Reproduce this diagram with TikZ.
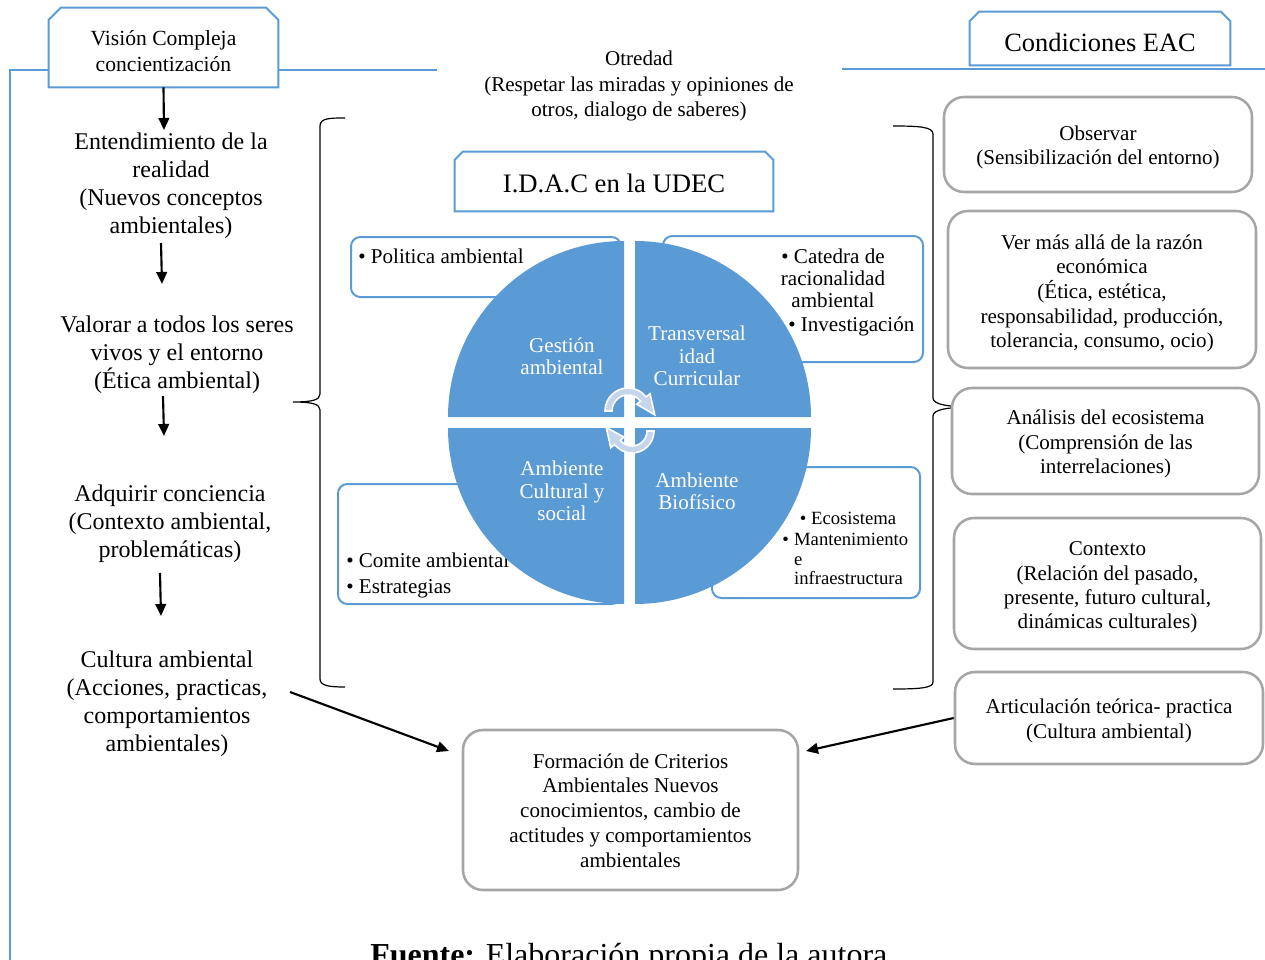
\documentclass[tikz,border=0pt]{standalone}
\usepackage{fontspec}
\setmainfont{Liberation Serif}
\usetikzlibrary{arrows.meta,calc}
\definecolor{myblue}{RGB}{91,155,213}
\definecolor{mygray}{RGB}{166,166,166}
\definecolor{arrlight}{RGB}{197,214,236}
\begin{document}
\begin{tikzpicture}[x=0.75pt,y=-0.75pt,
  hdrbase/.style={draw=none, inner sep=0pt},
  hdr/.style={draw=myblue, fill=white, line width=1.5pt},
  lefttxt/.style={align=center, inner sep=0pt, font=\fontsize{18}{21}\selectfont},
  graybox/.style={draw=mygray, line width=1.9pt, rounded corners=15pt, fill=white, inner sep=0pt},
  graytxt/.style={align=center, inner sep=0pt, font=\fontsize{15.8}{18.6}\selectfont},
  bluebox/.style={draw=myblue, line width=1.5pt, rounded corners=7pt, fill=white, inner sep=0pt},
  intxt/.style={inner sep=0pt, font=\fontsize{15.8}{18.75}\selectfont},
  quadtxt/.style={align=center, inner sep=0pt, text=white, font=\fontsize{15.8}{16.8}\selectfont},
  quad/.style={fill=myblue},
  brace/.style={draw=black, line width=0.9pt},
  arr/.style={-{Triangle[length=9pt,width=8pt]}, line width=1.6pt},
  arrfill/.style={fill=arrlight, draw=white, line width=1.2pt},
  topline/.style={draw=myblue, line width=2.2pt}
]
\useasboundingbox (0,0) rectangle (1265,960);
\clip (0,0) rectangle (1265,960);

% frame lines
\coordinate (tl) at (10,70);
\coordinate (tm) at (437,70);
\coordinate (bl) at (10,962);
\coordinate (tr1) at (842,69);
\coordinate (tr2) at (1267,69);
\draw[topline] (bl) -- (tl) -- (tm);
\draw[topline] (tr1) -- (tr2);

% header boxes (chamfered top corners)
\node[hdrbase, minimum width=171.75pt, minimum height=59.25pt] (vc) at (163.5,47.5) {};
\filldraw[hdr] (vc.south west) -- ([yshift=-9pt]vc.north west) -- ([xshift=9pt]vc.north west)
  -- ([xshift=-9pt]vc.north east) -- ([yshift=-9pt]vc.north east) -- (vc.south east) -- cycle;
\node[align=center, inner sep=0pt, font=\fontsize{16.2}{19.5}\selectfont] (vct) at (163.5,51.5) {Visión Compleja\\concientización};

\node[hdrbase, minimum width=195pt, minimum height=39.75pt] (eac) at (1100,38.5) {};
\filldraw[hdr] (eac.south west) -- ([yshift=-7pt]eac.north west) -- ([xshift=7pt]eac.north west)
  -- ([xshift=-7pt]eac.north east) -- ([yshift=-7pt]eac.north east) -- (eac.south east) -- cycle;
\node[inner sep=0pt, font=\fontsize{19.8}{22}\selectfont] (eact) at (1100,42.5) {Condiciones EAC};

\node[hdrbase, minimum width=238.5pt, minimum height=44.25pt] (idac) at (614,181.5) {};
\filldraw[hdr] (idac.south west) -- ([yshift=-6pt]idac.north west) -- ([xshift=6pt]idac.north west)
  -- ([xshift=-6pt]idac.north east) -- ([yshift=-6pt]idac.north east) -- (idac.south east) -- cycle;
\node[inner sep=0pt, font=\fontsize{20}{22}\selectfont] (idact) at (614,183) {I.D.A.C en la UDEC};

% Otredad
\node[align=center, inner sep=0pt, font=\fontsize{15.8}{19}\selectfont] (otr) at (639,86)
  {Otredad\\(Respetar las miradas y opiniones de\\otros, dialogo de saberes)};

% left column
\node[lefttxt] (ent) at (171,186) {Entendimiento de la\\realidad\\(Nuevos conceptos\\ambientales)};
\node[lefttxt] (val) at (177,355) {Valorar a todos los seres\\vivos y el entorno\\(Ética ambiental)};
\node[lefttxt] (adq) at (170,524) {Adquirir conciencia\\(Contexto ambiental,\\problemáticas)};
\node[lefttxt] (cul) at (167,704) {Cultura ambiental\\(Acciones, practicas,\\comportamientos\\ambientales)};

\coordinate (a1e) at (164,130);
\coordinate (a2s) at (161,243); \coordinate (a2e) at (162,284);
\coordinate (a3s) at (163,396); \coordinate (a3e) at (164,436);
\coordinate (a4s) at (160,573); \coordinate (a4e) at (161,616);
\draw[arr] (vc.south) -- (a1e);
\draw[arr] (a2s) -- (a2e);
\draw[arr] (a3s) -- (a3e);
\draw[arr] (a4s) -- (a4e);

% braces
\draw[brace] (345,118) .. controls (330,118) and (320,118) .. (320,126) -- (320,394)
  .. controls (320,400) and (312,402) .. (293,402)
  .. controls (312,402) and (320,404) .. (320,410) -- (320,679)
  .. controls (320,686) and (330,687) .. (345,687);
\draw[brace] (893,126) .. controls (920,126) and (933,127) .. (933,134) -- (933,398)
  .. controls (933,404) and (945,407) .. (975,407)
  .. controls (945,407) and (933,410) .. (933,416) -- (933,682)
  .. controls (933,688) and (920,689) .. (893,689);

% blue boxes behind circle
\node[bluebox, minimum width=202.5pt, minimum height=45pt] (pol) at (486,267) {};
\node[bluebox, minimum width=195pt, minimum height=94.5pt] (cat) at (793,299) {};
\node[bluebox, minimum width=212.25pt, minimum height=90pt] (com) at (479.5,544) {};
\node[bluebox, minimum width=156pt, minimum height=98.25pt] (eco) at (816,532.5) {};

\node[intxt, anchor=west] (polt) at (358,256) {•~Politica ambiental};
\node[intxt, align=center, font=\fontsize{15.8}{16.5}\selectfont] (catt) at (833,278) {•~Catedra de\\racionalidad\\ambiental};
\node[intxt, anchor=west] (inv) at (788,326) {•~Investigación};
\node[intxt, anchor=west, align=left, font=\fontsize{15.8}{19.5}\selectfont] (comt) at (346,575) {•~Comite ambiental\\•~Estrategias};
\node[intxt, font=\fontsize{14}{14.6}\selectfont] (ecot) at (848,518) {•~Ecosistema};
\node[intxt, anchor=north west, font=\fontsize{14}{14.6}\selectfont] (mant) at (782,532)
  {\begin{tabular}{@{}l@{\hspace{4pt}}l@{}}•&Mantenimiento\\&e\\&infraestructura\end{tabular}};

% circle quadrants
\fill[quad] (624,417) -- (448,417) arc[start angle=180,end angle=270,radius=176] -- cycle;
\fill[quad] (635,417) -- (811,417) arc[start angle=0,end angle=-90,radius=176] -- cycle;
\fill[quad] (624,428) -- (448,428) arc[start angle=180,end angle=90,radius=176] -- cycle;
\fill[quad] (635,428) -- (811,428) arc[start angle=0,end angle=90,radius=176] -- cycle;

\node[quadtxt] (q1) at (562,356) {Gestión\\ambiental};
\node[quadtxt] (q2) at (697,356) {Transversal\\idad\\Curricular};
\node[quadtxt] (q3) at (562,491) {Ambiente\\Cultural y\\social};
\node[quadtxt] (q4) at (697,491) {Ambiente\\Biofísico};

% circular arrows
\coordinate (ca) at (628,411);
\coordinate (cb) at (632,431);
\filldraw[arrfill] ($(ca)+(180:16)$) -- ($(ca)+(180:23)$) arc[start angle=180,end angle=322,radius=23]
  -- ($(ca)+(322:28)$) -- ($(ca)+(8:27)$) -- ($(ca)+(322:11)$) -- ($(ca)+(322:16)$)
  arc[start angle=322,end angle=180,radius=16] -- cycle;
\filldraw[arrfill] ($(cb)+(0:15)$) -- ($(cb)+(0:22)$) arc[start angle=0,end angle=142,radius=22]
  -- ($(cb)+(142:27)$) -- ($(cb)+(188:26)$) -- ($(cb)+(142:10)$) -- ($(cb)+(142:15)$)
  arc[start angle=142,end angle=0,radius=15] -- cycle;

% right gray boxes
\node[graybox, minimum width=231pt, minimum height=71.25pt] (obs) at (1098,144.5) {};
\node[graytxt] (obst) at (1098,147.5) {Observar\\(Sensibilización del entorno)};
\node[graybox, minimum width=231pt, minimum height=117.75pt] (ver) at (1102,289.5) {};
\node[graytxt, font=\fontsize{15.8}{18.5}\selectfont] (vert) at (1102,293.5)
  {Ver más allá de la razón\\económica\\(Ética, estética,\\responsabilidad, producción,\\tolerancia, consumo, ocio)};
\node[graybox, minimum width=230.25pt, minimum height=79.5pt] (ana) at (1105.5,441) {};
\node[graytxt] (anat) at (1105.5,444)
  {Análisis del ecosistema\\(Comprensión de las\\interrelaciones)};
\node[graybox, minimum width=230.25pt, minimum height=98.25pt] (ctx) at (1107.5,583.5) {};
\node[graytxt, font=\fontsize{15.8}{18.3}\selectfont] (ctxt) at (1107.5,587.5)
  {Contexto\\(Relación del pasado,\\presente, futuro cultural,\\dinámicas culturales)};
\node[graybox, minimum width=231pt, minimum height=69pt] (art) at (1109,718) {};
\node[graytxt] (artt) at (1109,721)
  {Articulación teórica- practica\\(Cultura ambiental)};
\node[graybox, minimum width=251.25pt, minimum height=120pt] (form) at (630.5,810) {};
\node[graytxt] (formt) at (630.5,810.5)
  {Formación de Criterios\\Ambientales Nuevos\\conocimientos, cambio de\\actitudes y comportamientos\\ambientales};

% arrows to bottom box
\coordinate (c1s) at (290,692);
\coordinate (c1e) at (449,751);
\coordinate (c2e) at (806,751);
\draw[arr] (c1s) -- (c1e);
\draw[arr] (art.west) -- (c2e);

% source line
\node[anchor=base west, inner sep=0pt, font=\fontsize{24}{28}\selectfont] (src) at (370,965)
  {\textbf{Fuente:} Elaboración propia de la autora};
\end{tikzpicture}
\end{document}
